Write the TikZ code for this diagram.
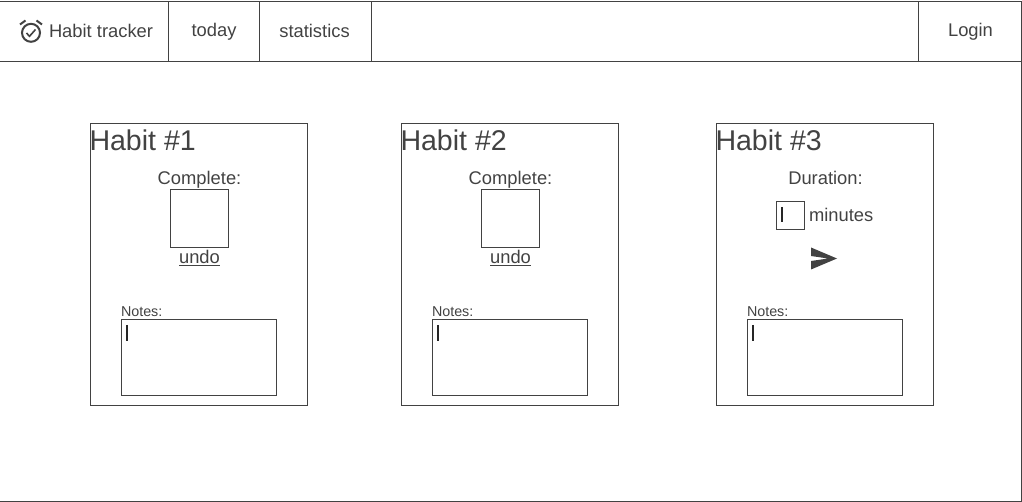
\documentclass[tikz,border=0pt]{standalone}
\usepackage{fontspec}
\setmainfont{Liberation Sans}
\definecolor{ink}{HTML}{424242}
\tikzset{
  line/.style={draw=ink,line width=1pt},
  boxn/.style={line,rectangle,inner sep=0pt,outer sep=0pt,anchor=north west},
  txt/.style={text=ink,inner sep=0pt,outer sep=0pt,font=\fontsize{#1}{#1}\selectfont},
  caret/.style={draw=black!85,line width=1.2pt},
  icon/.style={draw=ink,line width=2pt},
}
\newcommand{\boxat}[5]{\node[boxn,minimum width=#4pt,minimum height=#5pt] (#1) at (#2,#3) {};}
\newcommand{\card}[3]{%
  \boxat{#1card}{#2+0.5}{123.5}{217}{282}
  \node[txt=28.55,anchor=base west] (#1title) at (#2-0.5,151) {Habit \##3};
  \boxat{#1notes}{#2+31.5}{319.5}{155}{76}
  \node[txt=14.3,anchor=base west] (#1noteslabel) at (#2+31,316.8) {Notes:};
  \coordinate (#1ca) at (#2+37,325);
  \coordinate (#1cb) at (#2+37,341);
  \draw[caret] (#1ca) -- (#1cb);
}
\newcommand{\complete}[2]{%
  \node[txt=18.35,anchor=base] (#1complete) at (#2+109.5,184.8) {Complete:};
  \boxat{#1check}{#2+80.5}{189.5}{58}{58}
  \node[txt=18.35,anchor=base] (#1undo) at (#2+109.5,263.8) {\underline{undo}};
}
\begin{document}
\begin{tikzpicture}[x=1pt,y=-1pt]
\useasboundingbox (0,0) rectangle (1022,502);
\begin{scope}
\clip (0,0) rectangle (1022,502);
\node[boxn,minimum width=1023pt,minimum height=500pt] (frame) at (-1.5,1.5) {};
\node[boxn,minimum width=170.5pt,minimum height=60pt] (brand) at (-2,1.5) {};
\end{scope}
\boxat{todaycell}{168.5}{1.5}{91}{60}
\boxat{statscell}{259.5}{1.5}{112}{60}
\node[boxn,minimum width=105pt,minimum height=60pt] (logincell) at (918.5,1.5) {};
\coordinate (headl) at (0,61.5);
\coordinate (headr) at (1022,61.5);
\draw[line] (headl) -- (headr);
% alarm clock icon
\node[icon,circle,inner sep=0pt,minimum size=18pt] (clock) at (31,32.8) {};
\coordinate (bl1) at (20,24.5); \coordinate (bl2) at (25.5,20.5);
\coordinate (br1) at (36.5,20.5); \coordinate (br2) at (42,24.5);
\coordinate (ck1) at (26.5,33); \coordinate (ck2) at (29.5,36.3); \coordinate (ck3) at (35.5,29.5);
\draw[icon] (bl1) -- (bl2);
\draw[icon] (br1) -- (br2);
\draw[draw=ink,line width=1.6pt] (ck1) -- (ck2) -- (ck3);
\node[txt=18.35,anchor=base west] (brandtext) at (49,37.8) {Habit tracker};
\node[txt=18.35,anchor=base] (today) at (214,36.8) {today};
\node[txt=18.35,anchor=base] (stats) at (314.5,37.8) {statistics};
\node[txt=18.35,anchor=base] (login) at (970.5,36.8) {Login};
\card{a}{90}{1}
\complete{a}{90}
\card{b}{401}{2}
\complete{b}{401}
\card{c}{716}{3}
\node[txt=18.35,anchor=base] (duration) at (825.5,184.8) {Duration:};
\boxat{durbox}{776.5}{201.5}{28}{28}
\coordinate (dca) at (782,207);
\coordinate (dcb) at (782,222);
\draw[caret] (dca) -- (dcb);
\node[txt=18.35,anchor=base west] (minutes) at (809,221.8) {minutes};
\fill[ink] (811,247.5) -- (837,258.5) -- (811,269.5) -- (811,261) -- (828,258.5) -- (811,256) -- cycle;
\end{tikzpicture}
\end{document}
